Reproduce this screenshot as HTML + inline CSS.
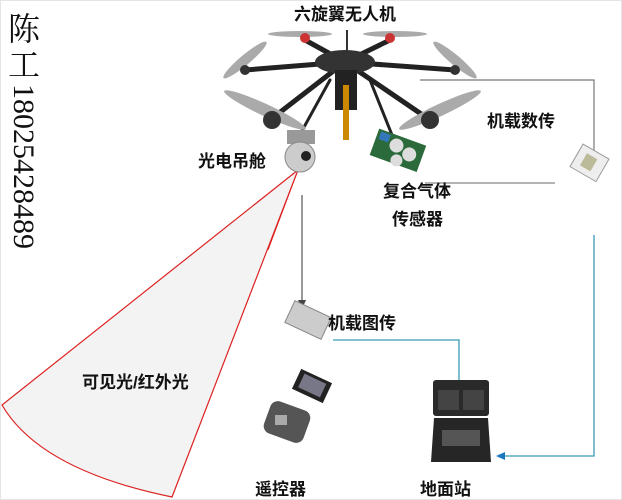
<!DOCTYPE html>
<html><head><meta charset="utf-8"><style>
html,body{margin:0;padding:0;background:#fff;}
svg{display:block}
text{font-family:"Liberation Sans","Noto Sans CJK SC",sans-serif;}
</style></head><body>
<svg width="622" height="500" viewBox="0 0 622 500" xmlns="http://www.w3.org/2000/svg">
<rect width="622" height="500" fill="#fff"/>
<rect x="0.5" y="0.5" width="621" height="499" fill="none" stroke="#e4e4e4"/>
<!-- phone text -->
<text x="8" y="40" font-size="32" fill="#111" style="font-family:'Liberation Serif','Noto Serif CJK SC',serif">陈</text>
<text x="8" y="76" font-size="32" fill="#111" style="font-family:'Liberation Serif','Noto Serif CJK SC',serif">工</text>
<text transform="translate(14,84) rotate(90)" font-size="30" fill="#111" style="font-family:'Liberation Serif',serif">18025428489</text>
<!-- fan -->
<path d="M298,170 L2,405 Q40,470 172,497 Z" fill="#f3f3f3" stroke="#d22" stroke-width="1.2"/>
<line x1="298" y1="170" x2="268" y2="250" stroke="#d22" stroke-width="1"/>
<!-- connectors -->
<polyline points="420,80 594,80 594,155" fill="none" stroke="#777" stroke-width="1.2"/>
<line x1="425" y1="183" x2="555" y2="183" stroke="#888" stroke-width="1.2"/>
<polyline points="594,235 594,456 503,456" fill="none" stroke="#3a9ab5" stroke-width="1.3"/>
<polygon points="496,456 505,452 505,460" fill="#1a78c0"/>
<line x1="302" y1="195" x2="302" y2="302" stroke="#555" stroke-width="1.2"/>
<polygon points="302,309 298,300 306,300" fill="#444"/>
<polyline points="333,340 459,340 459,380" fill="none" stroke="#3a9ab5" stroke-width="1.3"/>
<!-- drone -->
<g stroke="#222" stroke-width="5" stroke-linecap="round">
<line x1="345" y1="62" x2="305" y2="40"/><line x1="345" y1="62" x2="390" y2="40"/>
<line x1="345" y1="62" x2="245" y2="70"/><line x1="345" y1="62" x2="455" y2="70"/>
<line x1="345" y1="62" x2="270" y2="120"/><line x1="345" y1="62" x2="430" y2="120"/>
<line x1="330" y1="80" x2="298" y2="138" stroke-width="3"/><line x1="370" y1="80" x2="398" y2="150" stroke-width="3"/>
</g>
<g fill="#aaa">
<ellipse cx="245" cy="60" rx="28" ry="5" transform="rotate(-40 245 60)"/>
<ellipse cx="455" cy="60" rx="28" ry="5" transform="rotate(40 455 60)"/>
<ellipse cx="300" cy="34" rx="32" ry="3"/><ellipse cx="395" cy="34" rx="32" ry="3"/>
<ellipse cx="265" cy="110" rx="45" ry="6" transform="rotate(25 265 110)"/>
<ellipse cx="440" cy="110" rx="45" ry="6" transform="rotate(-25 440 110)"/>
</g>
<g fill="#333"><circle cx="272" cy="120" r="9"/><circle cx="430" cy="120" r="9"/><circle cx="305" cy="38" r="5" fill="#c33"/><circle cx="390" cy="38" r="5" fill="#c33"/><circle cx="245" cy="70" r="5"/><circle cx="455" cy="70" r="5"/></g>
<ellipse cx="345" cy="62" rx="30" ry="12" fill="#333"/>
<rect x="335" y="70" width="22" height="40" fill="#222"/>
<rect x="343" y="85" width="6" height="55" fill="#c80"/>
<line x1="347" y1="30" x2="347" y2="58" stroke="#333" stroke-width="2"/>
<!-- gimbal -->
<rect x="287" y="130" width="28" height="14" fill="#999"/>
<circle cx="300" cy="157" r="15" fill="#ccc" stroke="#888"/>
<circle cx="306" cy="156" r="5" fill="#222"/>
<!-- sensor board -->
<g transform="rotate(20 397 150)"><rect x="373" y="136" width="50" height="28" fill="#2b6a3a"/><circle cx="395" cy="146" r="7" fill="#ddd"/><circle cx="410" cy="150" r="7" fill="#ddd"/><circle cx="400" cy="160" r="6" fill="#ddd"/><rect x="376" y="138" width="10" height="8" fill="#37b"/></g>
<!-- data module -->
<g transform="rotate(30 590 162)"><rect x="575" y="150" width="30" height="26" fill="#eee" stroke="#999"/><rect x="583" y="156" width="12" height="14" fill="#bb9"/></g>
<!-- image transmitter -->
<g transform="rotate(25 308 320)"><rect x="288" y="308" width="40" height="24" fill="#ccc" stroke="#888"/></g>
<!-- remote -->
<rect x="295" y="375" width="34" height="22" fill="#222" transform="rotate(25 312 386)"/>
<rect x="300" y="378" width="24" height="15" fill="#778" transform="rotate(25 312 386)"/>
<rect x="266" y="405" width="42" height="34" rx="8" fill="#555" transform="rotate(20 287 422)"/>
<rect x="275" y="415" width="12" height="10" fill="#aaa"/>
<!-- ground station -->
<rect x="433" y="380" width="56" height="36" rx="3" fill="#2a2a2a"/>
<rect x="438" y="390" width="21" height="20" fill="#444"/><rect x="463" y="390" width="21" height="20" fill="#444"/>
<path d="M434,418 L488,418 L491,462 L431,462 Z" fill="#262626"/>
<rect x="442" y="430" width="38" height="16" fill="#555"/>
<!-- labels -->
<g font-weight="bold" fill="#111">
<text x="345" y="20" font-size="17" text-anchor="middle">六旋翼无人机</text>
<text x="198" y="167" font-size="17">光电吊舱</text>
<text x="487" y="127" font-size="17">机载数传</text>
<text x="383" y="197" font-size="17">复合气体</text>
<text x="392" y="225" font-size="17">传感器</text>
<text x="328" y="329" font-size="17">机载图传</text>
<text x="82" y="388" font-size="17">可见光/红外光</text>
<text x="255" y="495" font-size="17">遥控器</text>
<text x="420" y="495" font-size="17">地面站</text>
</g>
</svg>
</body></html>
